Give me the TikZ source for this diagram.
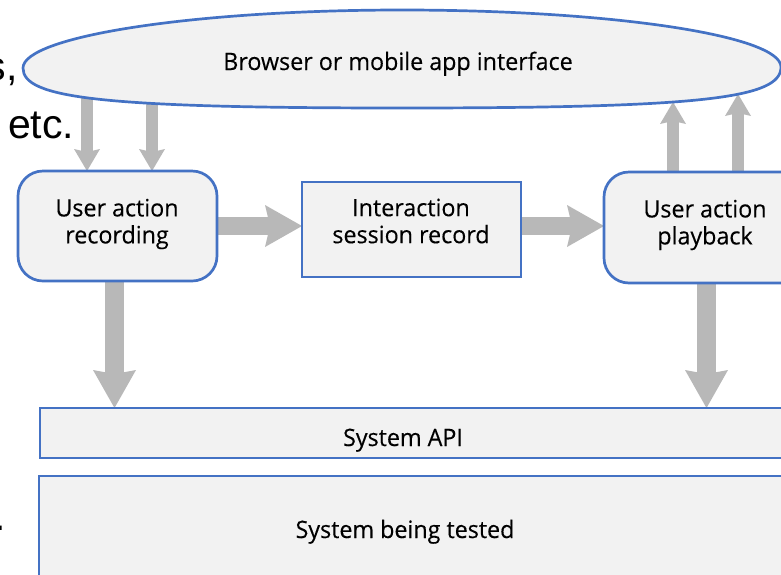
\documentclass[tikz,border=0pt]{standalone}
\usepackage{fontspec}
\setmainfont{Open Sans}
\newfontfamily\arialfont{Liberation Sans}
\newfontfamily\uiface[FakeStretch=0.97,FakeBold=0.25]{Open Sans}
\usetikzlibrary{arrows.meta,calc}
\definecolor{edgeblue}{HTML}{4472C4}
\definecolor{boxfill}{HTML}{F2F2F2}
\definecolor{flowgray}{HTML}{B8B8B8}
\pgfdeclarelayer{bg}
\pgfsetlayers{bg,main}

\begin{document}
\begin{tikzpicture}[x=1pt,y=-1pt,
  lbl/.style={font=\uiface\fontsize{24}{27}\selectfont, align=center, text=black, inner sep=0pt},
  frag/.style={font=\arialfont\fontsize{41}{48}\selectfont, inner sep=0pt, text=black},
  frame/.style={draw=edgeblue, fill=boxfill, line width=2.7pt, inner sep=0pt, outer sep=0pt, anchor=north west},
  slim flow/.style={draw=flowgray, line width=12pt, -{Stealth[length=22pt,width=26pt,inset=3pt,line width=0pt]}},
  side flow/.style={draw=flowgray, line width=18pt, -{Stealth[length=37pt,width=42pt,inset=5pt,line width=0pt]}},
  main flow/.style={draw=flowgray, line width=19pt, -{Stealth[length=38pt,width=43pt,inset=4pt,line width=0pt]}},
]
\useasboundingbox (0,0) rectangle (781,574);
\clip (0,0) rectangle (781,574);

% text running in from the left margin
\node[frag, anchor=base east] (fragA) at (18,80) {s,};
\node[frag, anchor=base west] (fragB) at (8,138) {etc.};
\node[frag, anchor=base east] (fragC) at (6,530) {.};

% interface oval
\path[draw=edgeblue, fill=boxfill, line width=2.7pt]
  (23,68) .. controls (23,98) and (99,108) .. (402,108)
  .. controls (705,108) and (781,98) .. (781,67)
  .. controls (781,35.5) and (611,10) .. (402,10)
  .. controls (193,10) and (23,36.5) .. (23,68) -- cycle;
\node[lbl, anchor=base] (ui) at (398,70) {Browser or mobile app interface};
\coordinate (upA) at (673,102);
\coordinate (upB) at (738,94);

% components
\node[frame, rounded corners=25pt, minimum width=199pt, minimum height=110pt] (rec) at (18,171) {};
\node[lbl] (rectext) at (117,224) {User action\\recording};
\node[frame, minimum width=219pt, minimum height=95pt] (mid) at (302,182) {};
\node[lbl] (midtext) at (411,221) {Interaction\\session record};
\node[frame, rounded corners=25pt, minimum width=201pt, minimum height=111pt] (play) at (604,172) {};
\node[lbl] (playtext) at (705,225) {User action\\playback};
\node[frame, minimum width=780pt, minimum height=50pt] (api) at (40,408) {};
\node[lbl, anchor=base] (apitext) at (403,446) {System API};
\node[frame, minimum width=780pt, minimum height=120pt] (sut) at (39,476) {};
\node[lbl, anchor=base] (suttext) at (405,538) {System being tested};

% flows
\begin{pgfonlayer}{bg}
\draw[slim flow] ([xshift=-30.5pt]rec.north |- ui.center) -- ([xshift=-30.5pt]rec.north);
\draw[slim flow] ([xshift=34.5pt]rec.north |- ui.center) -- ([xshift=34.5pt]rec.north);
\draw[slim flow] ([xshift=-31.5pt]play.north) -- (upA);
\draw[slim flow] ([xshift=33.5pt]play.north) -- (upB);
\draw[side flow] (rec.east) -- (rec.east -| mid.west);
\draw[side flow] (mid.east |- rec.east) -- (play.west |- rec.east);
\draw[main flow] ([xshift=-3pt]rec.south) -- ([xshift=-3pt]rec.south |- api.north);
\draw[main flow] ([xshift=2pt]play.south) -- ([xshift=2pt]play.south |- api.north);
\end{pgfonlayer}
\end{tikzpicture}
\end{document}
